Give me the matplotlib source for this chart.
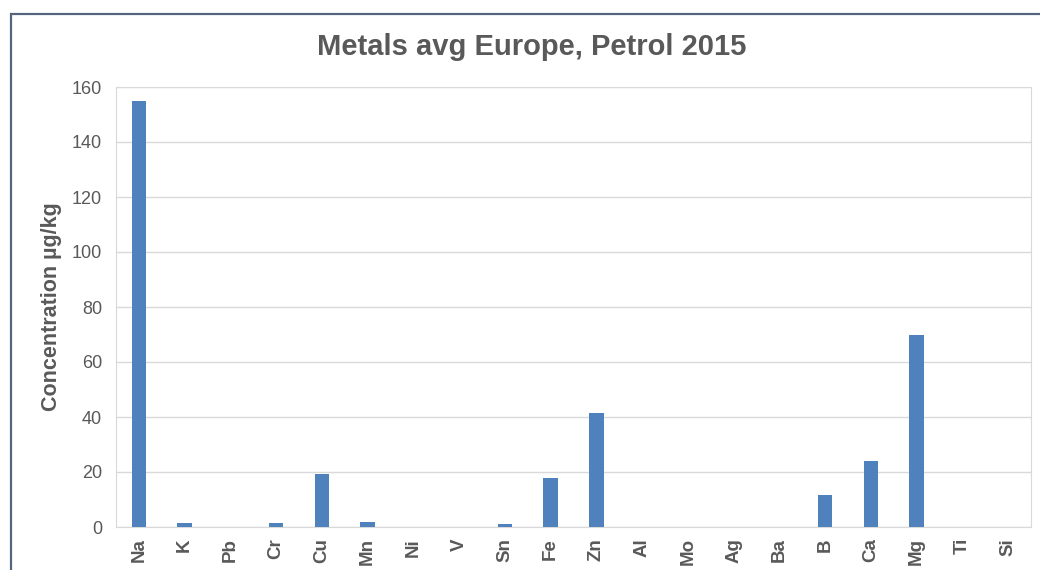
import matplotlib
matplotlib.use("Agg")
import matplotlib.pyplot as plt
from matplotlib.patches import Rectangle
import numpy as np

plt.rcParams["font.family"] = ["Liberation Sans", "DejaVu Sans"]

metals = ["Na", "K", "Pb", "Cr", "Cu", "Mn", "Ni", "V", "Sn", "Fe",
          "Zn", "Al", "Mo", "Ag", "Ba", "B", "Ca", "Mg", "Ti", "Si"]
conc = [155.0, 1.3, 0.0, 1.6, 19.3, 1.8, 0.0, 0.0, 1.2, 17.7,
        41.3, 0.0, 0.0, 0.0, 0.0, 11.8, 24.0, 69.8, 0.0, 0.0]

TXT = "#595959"
W, H = 1040, 570
fig = plt.figure(figsize=(W / 100, H / 100), dpi=100)

# outer chart border (runs off the right/bottom edge)
fig.patches.append(Rectangle((11 / W, -0.1), 1.2, 1 - 14 / H + 0.1,
                             transform=fig.transFigure, fill=False,
                             edgecolor="#56657f", lw=1.6))

ax = fig.add_axes([116 / W, 1 - 527 / H, (1031 - 116) / W, (527 - 87) / H])
x = np.arange(len(metals))
ax.bar(x, conc, width=0.32, color="#4f81bd", zorder=3)
ax.set_xlim(-0.5, len(metals) - 0.5)
ax.set_ylim(0, 160)
ax.set_yticks(np.arange(0, 161, 20))
ax.yaxis.grid(True, color="#d9d9d9", lw=1, zorder=0)
ax.set_xticks(x)
ax.set_xticklabels(metals, rotation=90, fontsize=13.5, fontweight="bold", color=TXT)
ax.tick_params(axis="y", labelsize=13, labelcolor=TXT, length=0, pad=10)
ax.tick_params(axis="x", length=0, pad=8)
for s in ("left", "top", "right", "bottom"):
    ax.spines[s].set_color("#d9d9d9")
ax.set_ylabel("Concentration µg/kg", fontsize=15.5, fontweight="bold", color=TXT, labelpad=7)
fig.text(0.5 + 12 / W, 1 - 47 / H, "Metals avg Europe, Petrol 2015", ha="center", va="center",
         fontsize=21, fontweight="bold", color=TXT)

fig.savefig("out.png", dpi=100)
